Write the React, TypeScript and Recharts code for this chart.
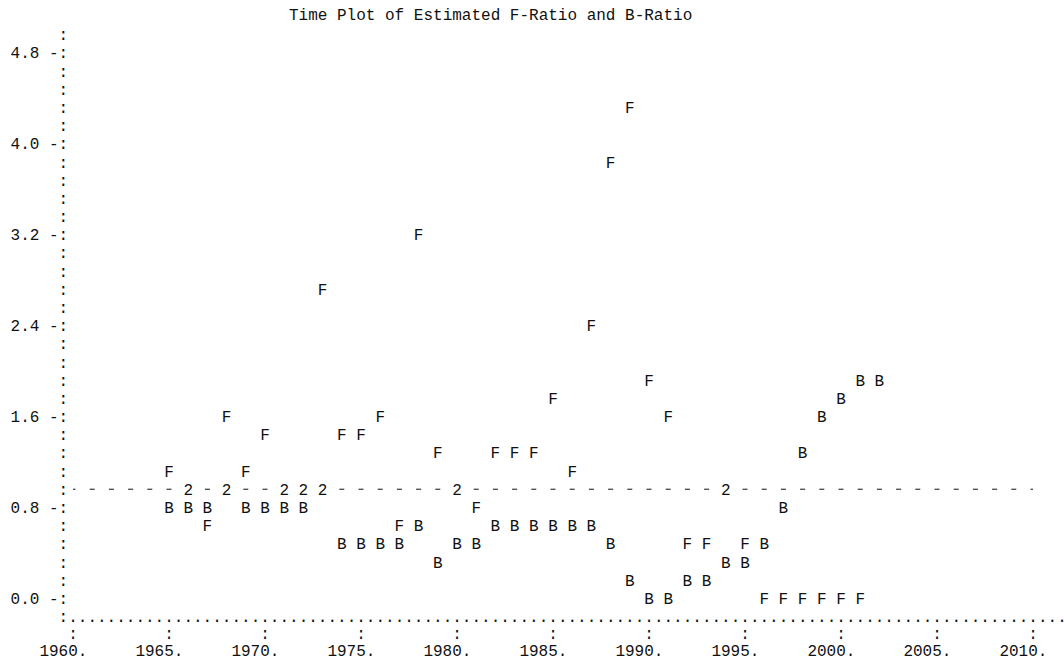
import { ReferenceLine, Scatter, ScatterChart, XAxis, YAxis } from 'recharts';

// Estimated ratios, one value per year
const F_YEARS = [
  1965, 1966, 1967, 1968, 1969, 1970, 1971, 1972, 1973, 1974, 1975, 1976, 1977,
  1978, 1979, 1980, 1981, 1982, 1983, 1984, 1985, 1986, 1987, 1988, 1989, 1990,
  1991, 1992, 1993, 1994, 1995, 1996, 1997, 1998, 1999, 2000, 2001,
];
const F_RATIO = [
  1.12, 0.96, 0.64, 1.6, 1.12, 1.44, 0.96, 0.96, 2.72, 1.44, 1.44, 1.6, 0.64,
  3.2, 1.28, 0.96, 0.8, 1.28, 1.28, 1.28, 1.76, 1.12, 2.4, 3.84, 4.32, 1.92,
  1.6, 0.48, 0.48, 0.96, 0.48, 0, 0, 0, 0, 0, 0,
];
const B_YEARS = [
  1965, 1966, 1967, 1968, 1969, 1970, 1971, 1972, 1973, 1974, 1975, 1976, 1977,
  1978, 1979, 1980, 1981, 1982, 1983, 1984, 1985, 1986, 1987, 1988, 1989, 1990,
  1991, 1992, 1993, 1994, 1995, 1996, 1997, 1998, 1999, 2000, 2001, 2002,
];
const B_RATIO = [
  0.8, 0.8, 0.8, 0.96, 0.8, 0.8, 0.8, 0.8, 0.96, 0.48, 0.48, 0.48, 0.48,
  0.64, 0.32, 0.48, 0.48, 0.64, 0.64, 0.64, 0.64, 0.64, 0.64, 0.48, 0.16, 0,
  0, 0.16, 0.16, 0.32, 0.32, 0.48, 0.8, 1.28, 1.6, 1.76, 1.92, 1.92,
];
const REF_RATIO = 0.96;

const X_TICKS = [1960, 1965, 1970, 1975, 1980, 1985, 1990, 1995, 2000, 2005, 2010];
const Y_LABELS = ['0.0', '0.8', '1.6', '2.4', '3.2', '4.0', '4.8'];
const ROW = 0.16; // one text line of the plot
const Y_ROWS = Array.from({ length: 33 }, (_, k) => Number(((k - 1) * ROW).toFixed(2)));

const fData = F_YEARS.map((year, i) => ({ year, ratio: F_RATIO[i] }));
const bData = B_YEARS.map((year, i) => ({ year, ratio: B_RATIO[i] }));

const FONT = '"Liberation Mono", "DejaVu Sans Mono", monospace';
const INK = '#111';
const CH = 9.6;
const LEFT = 73;

const symbol = (ch: string) => (props: any) => {
  const { cx, cy, payload } = props;
  const onRef = Math.abs(payload.ratio - REF_RATIO) < 1e-6;
  return (
    <g>
      {onRef && <rect x={cx - CH / 2} y={cy - 8} width={CH} height={16} fill="#fff" />}
      <text x={cx} y={cy} dy="0.35em" textAnchor="middle" fontFamily={FONT} fontSize={16} fill={INK}>
        {onRef ? '2' : ch}
      </text>
    </g>
  );
};

const YTick = (props: any) => {
  const { y, payload } = props;
  const v = payload.value;
  let label = ':';
  let x = LEFT - CH;
  let anchor: 'middle' | 'end' | 'start' = 'middle';
  if (v < 0) {
    label = ':' + '.'.repeat(104);
    x = LEFT - CH * 1.5;
    anchor = 'start';
  } else {
    const hit = Y_LABELS.find((l) => Math.abs(Number(l) - v) < 1e-6);
    if (hit) {
      label = `${hit} -:`;
      x = LEFT - CH / 2;
      anchor = 'end';
    }
  }
  return (
    <text x={x} y={y} dy="0.35em" textAnchor={anchor} fontFamily={FONT} fontSize={16} fill={INK}>
      {label}
    </text>
  );
};

const XTick = (props: any) => {
  const { x, payload } = props;
  return (
    <g>
      <text x={x} y={633} dy="0.35em" textAnchor="middle" fontFamily={FONT} fontSize={16} fill={INK}>
        :
      </text>
      <text x={x + CH * 1.5} y={650} dy="0.35em" textAnchor="end" fontFamily={FONT} fontSize={16} fill={INK}>
        {`${payload.value}.`}
      </text>
    </g>
  );
};

export default function App() {
  return (
    <div style={{ position: 'absolute', left: 0, top: 0, width: 1064, height: 663, background: '#fff' }}>
      <div
        style={{
          position: 'absolute',
          left: 289,
          top: 7,
          fontFamily: FONT,
          fontSize: 16,
          lineHeight: '18px',
          color: INK,
          whiteSpace: 'pre',
        }}
      >
        Time Plot of Estimated F-Ratio and B-Ratio
      </div>
      <ScatterChart width={1064} height={663} margin={{ top: 34.7, right: 31, left: 0, bottom: 0 }}>
        <XAxis
          type="number"
          dataKey="year"
          domain={[1960, 2010]}
          ticks={X_TICKS}
          interval={0}
          tick={XTick}
          tickLine={false}
          axisLine={false}
          height={46.5}
        />
        <YAxis
          type="number"
          dataKey="ratio"
          domain={[-ROW, 4.96]}
          ticks={Y_ROWS}
          interval={0}
          tick={YTick}
          tickLine={false}
          axisLine={false}
          width={LEFT}
        />
        <ReferenceLine
          y={REF_RATIO}
          stroke={INK}
          strokeWidth={1}
          strokeDasharray="5 14.2"
          strokeDashoffset={2.5}
        />
        <Scatter data={fData} shape={symbol('F')} isAnimationActive={false} />
        <Scatter data={bData} shape={symbol('B')} isAnimationActive={false} />
      </ScatterChart>
    </div>
  );
}
